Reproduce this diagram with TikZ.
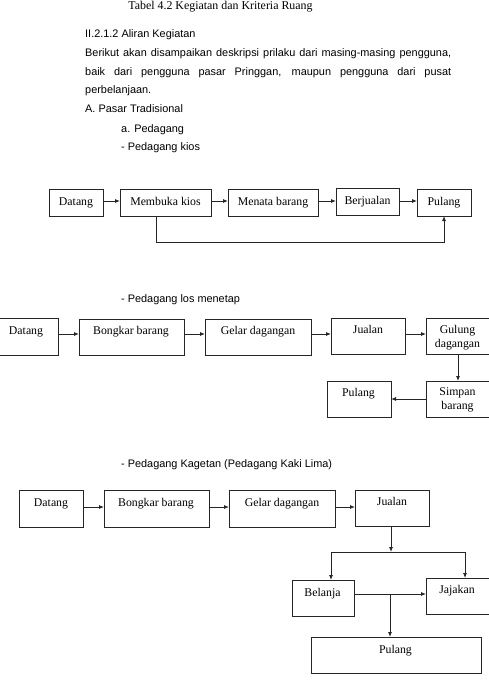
\documentclass[tikz,border=0pt]{standalone}
\usepackage{fontspec}
\setmainfont{Liberation Serif}
\newfontfamily\arialf{Liberation Sans}
\usetikzlibrary{arrows.meta}
\tikzset{
  box/.style={draw=black!85, line width=0.8pt, inner sep=0pt, outer sep=0pt},
  lbl/.style={inner sep=0pt, anchor=base, font=\fontsize{11.8}{13.5}\selectfont},
  lbl2/.style={inner sep=0pt, anchor=center, align=center, font=\fontsize{11.8}{14}\selectfont},
  body/.style={inner sep=0pt, anchor=base west, font=\arialf\fontsize{10.9}{13}\selectfont},
  arr/.style={draw=black!85, line width=0.8pt, -{Latex[length=5pt,width=4pt]}},
  ln/.style={draw=black!85, line width=0.8pt}
}
% name, cx, cy, w, h
\newcommand\mybx[5]{\node[box, minimum width=#4pt, minimum height=#5pt] (#1) at (#2,#3) {};}
\begin{document}
\begin{tikzpicture}[x=1pt,y=-1pt]
\useasboundingbox (0,0) rectangle (489,683);
% header text
\node[inner sep=0pt, anchor=base, font=\fontsize{11.9}{14}\selectfont] (title) at (220.5,9.2) {Tabel 4.2 Kegiatan dan Kriteria Ruang};
\node[body] (h1) at (85,37.3) {II.2.1.2 Aliran Kegiatan};
\node[body] (p1) at (85,56) {\makebox[366pt][s]{Berikut akan disampaikan deskripsi prilaku dari masing-masing pengguna,}};
\node[body] (p2) at (85,75) {\makebox[366pt][s]{baik dari pengguna pasar Pringgan, maupun pengguna dari pusat}};
\node[body] (p3) at (85,93.7) {perbelanjaan.};
\node[body] (p4) at (85,112.7) {A. Pasar Tradisional};
\node[body] (p5) at (121,132) {a. Pedagang};
\node[body] (p6) at (121,150.7) {- Pedagang kios};
\node[body] (p7) at (121,302.7) {- Pedagang los menetap};
\node[body] (p8) at (121,467.7) {- Pedagang Kagetan (Pedagang Kaki Lima)};

% ---------- Diagram 1
\mybx{D1}{76}{202.5}{54}{27}
\mybx{M1}{165.5}{202.5}{91}{27}
\mybx{N1}{273}{202.5}{90}{27}
\mybx{B1}{367.5}{201.5}{63}{27}
\mybx{P1}{444}{202.5}{54}{27}
\node[lbl] (D1t) at (76,205.7) {Datang};
\node[lbl] (M1t) at (165.5,205.7) {Membuka kios};
\node[lbl] (N1t) at (273,205.7) {Menata barang};
\node[lbl] (B1t) at (367.5,204.7) {Berjualan};
\node[lbl] (P1t) at (444,205.7) {Pulang};
\draw[arr] ([yshift=1.5pt]D1.east) -- ([yshift=1.5pt]D1.east -| M1.west);
\draw[arr] ([yshift=1.5pt]M1.east) -- ([yshift=1.5pt]M1.east -| N1.west);
\draw[arr] ([yshift=1.5pt]N1.east) -- ([yshift=1.5pt]N1.east -| B1.west);
\draw[arr] ([yshift=0.5pt]B1.east) -- ([yshift=0.5pt]B1.east -| P1.west);
\coordinate (c1) at (156,242);
\draw[arr] (c1 |- M1.south) -- (c1) -| (P1.south);

% ---------- Diagram 2
\mybx{D2}{28}{336.5}{60}{37}
\mybx{B2}{131.5}{337}{105}{36}
\mybx{G2}{258}{337}{106}{36}
\mybx{J2}{368}{336}{74}{36}
\mybx{U2}{458}{336}{64}{36}
\mybx{S2}{458}{399}{64}{36}
\mybx{P2}{359}{399}{64}{36}
\node[lbl] (D2t) at (26,334.5) {Datang};
\node[lbl] (B2t) at (131,334.5) {Bongkar barang};
\node[lbl] (G2t) at (258,334.5) {Gelar dagangan};
\node[lbl] (J2t) at (368,333.5) {Jualan};
\node[lbl2] (U2t) at (457.5,337.5) {Gulung\\dagangan};
\node[lbl2] (S2t) at (457.5,399.5) {Simpan\\barang};
\node[lbl] (P2t) at (358.5,396.5) {Pulang};
\draw[arr] ([yshift=2.5pt]D2.east) -- ([yshift=2.5pt]D2.east -| B2.west);
\draw[arr] ([yshift=3pt]B2.east) -- ([yshift=3pt]B2.east -| G2.west);
\draw[arr] ([yshift=3pt]G2.east) -- ([yshift=3pt]G2.east -| J2.west);
\draw[arr] ([yshift=2pt]J2.east) -- ([yshift=2pt]J2.east -| U2.west);
\draw[arr] (U2.south) -- (S2.north);
\draw[arr] (S2.west) -- (P2.east);

% ---------- Diagram 3
\mybx{D3}{51}{508.5}{64}{37}
\mybx{B3}{156.5}{508.5}{105}{37}
\mybx{G3}{282}{508.5}{106}{37}
\mybx{J3}{392}{508}{74}{36}
\mybx{E3}{323}{598}{62}{36}
\mybx{A3}{457.5}{596}{63}{36}
\mybx{L3}{396}{655}{170}{36}
\node[lbl] (D3t) at (51,506.5) {Datang};
\node[lbl] (B3t) at (156,506.5) {Bongkar barang};
\node[lbl] (G3t) at (282,506.5) {Gelar dagangan};
\node[lbl] (J3t) at (392,505.5) {Jualan};
\node[lbl] (E3t) at (322.5,596.5) {Belanja};
\node[lbl] (A3t) at (457,593.5) {Jajakan};
\node[lbl] (L3t) at (395.5,653.5) {Pulang};
\draw[arr] ([yshift=1.5pt]D3.east) -- ([yshift=1.5pt]D3.east -| B3.west);
\draw[arr] ([yshift=1.5pt]B3.east) -- ([yshift=1.5pt]B3.east -| G3.west);
\draw[arr] ([yshift=1.5pt]G3.east) -- ([yshift=1.5pt]G3.east -| J3.west);
\coordinate (h3) at (391,552);
\coordinate (hl) at (331,552);
\coordinate (hr) at (465,552);
\draw[arr] (h3 |- J3.south) -- (h3);
\draw[ln] (hl) -- (hr);
\draw[arr] (hl) -- (hl |- E3.north);
\draw[arr] (hr) -- (hr |- A3.north);
\draw[arr] ([yshift=4pt]E3.east) -- ([yshift=4pt]E3.east -| A3.west);
\coordinate (k3) at (390,594);
\draw[arr] (k3) -- (k3 |- L3.north);
\end{tikzpicture}
\end{document}
